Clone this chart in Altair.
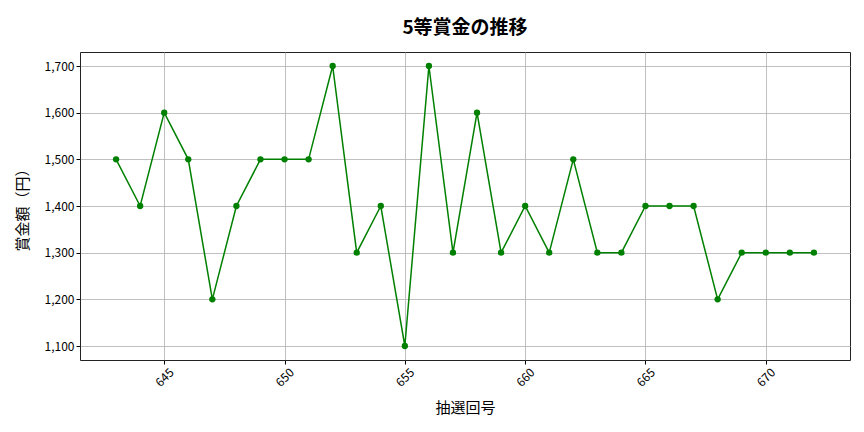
import altair as alt
import pandas as pd

draws = list(range(643, 673))
prizes = [1500, 1400, 1600, 1500, 1200, 1400, 1500, 1500, 1500, 1700,
          1300, 1400, 1100, 1700, 1300, 1600, 1300, 1400, 1300, 1500,
          1300, 1300, 1400, 1400, 1400, 1200, 1300, 1300, 1300, 1300]
x_ticks = [645, 650, 655, 660, 665, 670]
y_ticks = [1100, 1200, 1300, 1400, 1500, 1600, 1700]

df = pd.DataFrame({"draw": draws, "prize": prizes})

FONT = "Noto Sans CJK JP"

base = alt.Chart(df).encode(
    x=alt.X("draw:Q", scale=alt.Scale(domain=[641.5, 673.5], nice=False, zero=False),
            axis=alt.Axis(values=x_ticks, title="抽選回号", labelAngle=-45,
                          labelAlign="center", labelBaseline="middle", labelPadding=13,
                          titlePadding=12)),
    y=alt.Y("prize:Q", scale=alt.Scale(domain=[1070, 1730], nice=False, zero=False),
            axis=alt.Axis(values=y_ticks, format=",d", title="賞金額（円）", titlePadding=14)),
)

line = base.mark_line(color="#008000", strokeWidth=1.5)
points = base.mark_circle(color="#008000", size=40, opacity=1)

chart = (line + points).properties(
    width=770, height=308,
    title=alt.TitleParams("5等賞金の推移", fontSize=19, fontWeight="bold", font=FONT,
                          offset=14, anchor="middle"),
    autosize=alt.AutoSizeParams(type="none"),
    padding={"left": 72, "top": 44, "right": 6, "bottom": 64},
).configure_axis(
    labelFont=FONT, titleFont=FONT, labelFontSize=12, titleFontSize=15,
    titleFontWeight="normal", labelColor="#000", titleColor="#000",
    grid=True, gridColor="#b0b0b0", gridWidth=0.8,
    domain=False, tickColor="#000", tickSize=4,
).configure_view(stroke="#222", strokeWidth=1)

chart.save("out.html", embed_options={"renderer": "svg", "actions": False})
